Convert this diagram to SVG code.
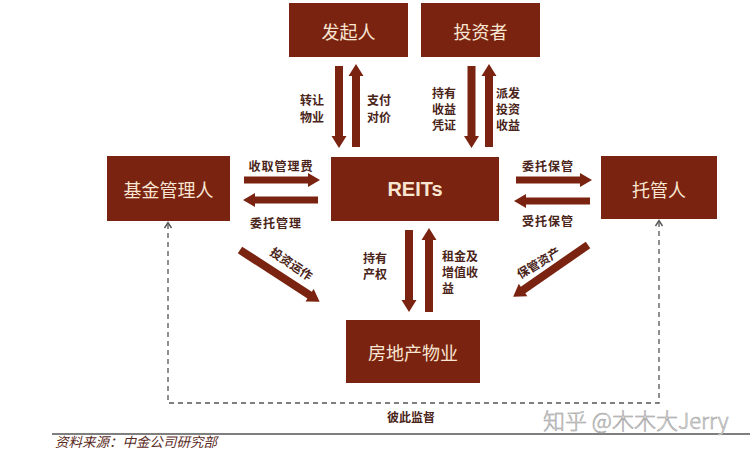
<svg xmlns="http://www.w3.org/2000/svg" width="750" height="453" viewBox="0 0 750 453">
<defs>
<style>
.box{fill:#7a2310;}
.bt{font-family:"Noto Sans CJK SC","Noto Sans",sans-serif;font-size:18px;fill:#f8e6d2;text-anchor:middle;dominant-baseline:central;}
.rt{font-family:"Liberation Sans","DejaVu Sans",sans-serif;font-size:20px;font-weight:bold;fill:#f8e6d2;text-anchor:middle;dominant-baseline:central;}
.arr{fill:#7a2310;}
.lb{font-family:"Noto Sans CJK SC",sans-serif;font-size:12px;font-weight:bold;fill:#4a2418;text-anchor:middle;dominant-baseline:central;}
.lbl{font-family:"Noto Sans CJK SC",sans-serif;font-size:12px;font-weight:bold;fill:#4a2418;dominant-baseline:central;}
.dash{fill:none;stroke:#555;stroke-width:1.3;stroke-dasharray:5 4;}
.head{fill:none;stroke:#555;stroke-width:1.4;}
</style>
</defs>
<rect width="750" height="453" fill="#ffffff"/>

<g id="connectors">
  <!-- 发起人 down / up -->
  <path class="arr" d="M335,66 H343 V136 H346.5 L339,148 L331.5,136 H335 Z"/>
  <path class="arr" d="M356,64 L363.5,76 H360 V147 H352 V76 H348.5 Z"/>
  <!-- 投资者 down / up -->
  <path class="arr" d="M467.5,66 H475.5 V136 H479 L471.5,148 L464,136 H467.5 Z"/>
  <path class="arr" d="M489,64 L496.5,76 H493 V147 H485 V76 H481.5 Z"/>
  <!-- REITs to property down / up -->
  <path class="arr" d="M405,230 H413 V300 H416.5 L409,312 L401.5,300 H405 Z"/>
  <path class="arr" d="M429,228 L436.5,240 H433 V312 H425 V240 H421.5 Z"/>
  <!-- left horizontal -->
  <path class="arr" d="M244,176.5 H308 V173 L320,180 L308,187 V183.5 H244 Z"/>
  <path class="arr" d="M318,196.5 H255 V193 L243,200 L255,207 V203.5 H318 Z"/>
  <!-- right horizontal -->
  <path class="arr" d="M516,176.5 H580 V173 L592,180 L580,187 V183.5 H516 Z"/>
  <path class="arr" d="M590,197.5 H526 V194 L514,201 L526,208 V204.5 H590 Z"/>
  <!-- diagonals -->
  <path class="arr" transform="translate(240,250) rotate(33)" d="M0,-4 H83 V-7.5 L95,0 L83,7.5 V4 H0 Z"/>
  <path class="arr" transform="translate(588,245) rotate(145.3)" d="M0,-4 H79 V-7.5 L91,0 L79,7.5 V4 H0 Z"/>
  <!-- dashed supervision -->
  <path class="dash" d="M168,224 V403 H659 V222"/>
  <path class="head" d="M164.5,228 L168,222.5 L171.5,228"/>
  <path class="head" d="M655.5,226 L659,220.5 L662.5,226"/>
</g>

<g id="labels">
  <text class="lb" x="312" y="99">转让</text>
  <text class="lb" x="312" y="116">物业</text>
  <text class="lb" x="379" y="99">支付</text>
  <text class="lb" x="379" y="116">对价</text>
  <text class="lb" x="444" y="92">持有</text>
  <text class="lb" x="444" y="108">收益</text>
  <text class="lb" x="444" y="124">凭证</text>
  <text class="lb" x="508" y="92">派发</text>
  <text class="lb" x="508" y="108">投资</text>
  <text class="lb" x="508" y="124">收益</text>
  <text class="lb" x="281" y="165" letter-spacing="1">收取管理费</text>
  <text class="lb" x="276" y="222" letter-spacing="1">委托管理</text>
  <text class="lb" x="548" y="165" letter-spacing="1">委托保管</text>
  <text class="lb" x="548" y="220" letter-spacing="1">受托保管</text>
  <text class="lb" x="375" y="257">持有</text>
  <text class="lb" x="375" y="273">产权</text>
  <text class="lbl" x="442" y="255">租金及</text>
  <text class="lbl" x="442" y="271">增值收</text>
  <text class="lbl" x="442" y="287">益</text>
  <text class="lb" transform="translate(292,263) rotate(34)">投资运作</text>
  <text class="lb" transform="translate(538,262) rotate(-31)">保管资产</text>
  <text class="lb" x="411" y="416">彼此监督</text>
</g>

<g id="n-faqiren"><rect class="box" x="289" y="3" width="119" height="54"/><text class="bt" x="348.5" y="31">发起人</text></g>
<g id="n-touzizhe"><rect class="box" x="421" y="3" width="119" height="54"/><text class="bt" x="480.5" y="31">投资者</text></g>
<g id="n-reits"><rect class="box" x="331" y="157" width="168" height="64"/><text class="rt" x="415" y="189">REITs</text></g>
<g id="n-manager"><rect class="box" x="107" y="156" width="123" height="65"/><text class="bt" x="168.5" y="189">基金管理人</text></g>
<g id="n-custodian"><rect class="box" x="601" y="156" width="116" height="63"/><text class="bt" x="659" y="189">托管人</text></g>
<g id="n-property"><rect class="box" x="346" y="320" width="134" height="63"/><text class="bt" x="413" y="352">房地产物业</text></g>

<g id="footer">
  <line x1="52" y1="434" x2="750" y2="434" stroke="#555" stroke-width="1.5"/>
  <text x="55" y="447" font-family="Noto Sans CJK SC,sans-serif" font-size="13.5" font-style="italic" fill="#5a2a1c">资料来源：中金公司研究部</text>
  <text x="543" y="429" font-family="Noto Sans CJK SC,sans-serif" font-size="22" font-weight="300" fill="#e0e0e0" stroke="#999999" stroke-width="0.5">知乎 @木木大Jerry</text>
</g>
</svg>
